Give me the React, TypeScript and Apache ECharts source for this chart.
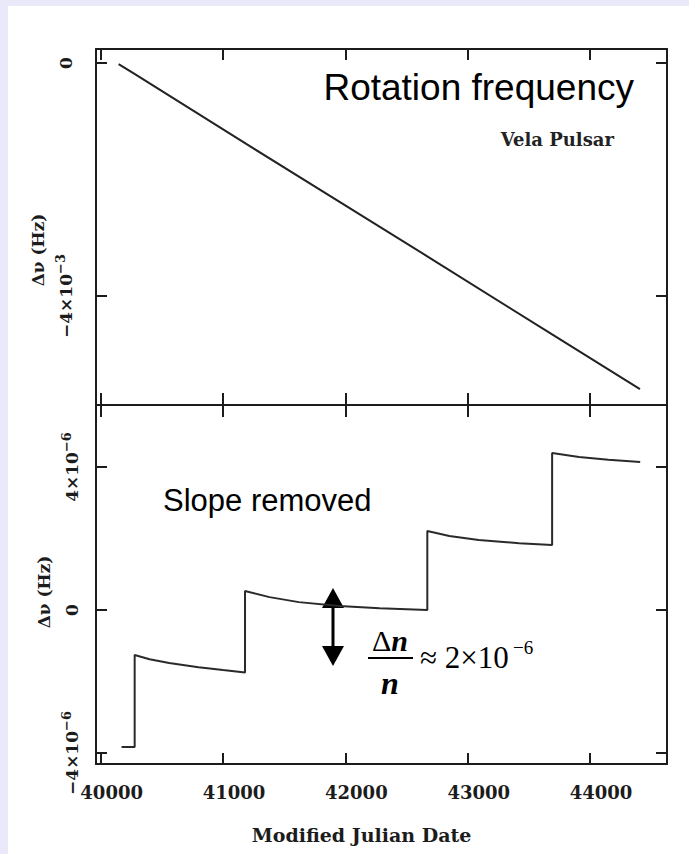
import React, { useEffect, useRef } from "react";
import * as echarts from "echarts";

// ---- data ----
const xTicks = [40000, 41000, 42000, 43000, 44000];
const yTicksTop = [-4, 0]; // units of 1e-3 Hz
const yTicksBottom = [-4, 0, 4]; // units of 1e-6 Hz

// top panel: rotation frequency offset (1e-3 Hz)
const mjdTop = [40147, 40280, 41190, 42686, 43690, 44408];
const dnuTop = [-0.02, -0.19, -1.39, -3.34, -4.66, -5.6];

// bottom panel: slope removed (1e-6 Hz)
const mjdSlope = [
  40171, 40278, 40278, 40400, 40560, 40800, 41000, 41180, 41180, 41380, 41620,
  41950, 42280, 42670, 42670, 42850, 43090, 43420, 43690, 43690, 43910, 44150,
  44410,
];
const dnuSlope = [
  -3.83, -3.83, -1.26, -1.38, -1.48, -1.6, -1.68, -1.75, 0.53, 0.36, 0.22, 0.11,
  0.05, 0.0, 2.21, 2.07, 1.96, 1.87, 1.82, 4.39, 4.28, 4.2, 4.14,
];

const X_MIN = 39962;
const X_MAX = 44629;
const TOP_MIN = -5.871;
const TOP_MAX = 0.24;
const BOT_MIN = -4.308;
const BOT_MAX = 5.734;

const INK = "#1c1c1c";
const SERIF_B = "DejaVu Serif";

export default function App() {
  const ref = useRef<HTMLDivElement>(null);

  useEffect(() => {
    if (!ref.current) return;
    const chart = echarts.init(ref.current, null, { renderer: "svg" });

    const line = { show: true, onZero: false, lineStyle: { color: INK, width: 2 } };
    const tickX = (vals: number[], len = 11) => ({
      show: true,
      inside: true,
      length: len,
      customValues: vals,
      lineStyle: { color: INK, width: 2 },
    });
    const richLab = {
      n: { fontFamily: SERIF_B, fontWeight: "bold", fontSize: 17, color: INK, lineHeight: 24 },
      s: { fontFamily: SERIF_B, fontWeight: "bold", fontSize: 13, color: INK, verticalAlign: "top", lineHeight: 13 },
    };

    const xBase = { type: "value", min: X_MIN, max: X_MAX, splitLine: { show: false }, axisLine: line };

    const option: any = {
      animation: false,
      grid: [
        { left: 96, top: 49, width: 571, height: 356 },
        { left: 96, top: 405, width: 571, height: 359 },
      ],
      xAxis: [
        { ...xBase, gridIndex: 0, position: "bottom", axisTick: tickX(xTicks, 12), axisLabel: { show: false } },
        { ...xBase, gridIndex: 0, position: "top", axisTick: tickX(xTicks), axisLabel: { show: false } },
        {
          ...xBase,
          gridIndex: 1,
          position: "bottom",
          axisTick: tickX(xTicks),
          axisLabel: {
            show: true,
            customValues: xTicks,
            margin: 19,
            padding: [0, 0, 0, 22],
            fontFamily: SERIF_B,
            fontWeight: "bold",
            fontSize: 18,
            color: INK,
            formatter: (v: number) => String(Math.round(v)),
          },
          name: "Modified Julian Date",
          nameLocation: "middle",
          nameGap: 61,
          nameTextStyle: {
            fontFamily: SERIF_B,
            fontWeight: "bold",
            fontSize: 19,
            color: INK,
            padding: [0, 40, 0, 0],
          },
        },
        { ...xBase, gridIndex: 1, position: "top", axisTick: tickX(xTicks, 12), axisLabel: { show: false } },
      ],
      yAxis: [
        {
          type: "value",
          gridIndex: 0,
          position: "left",
          min: TOP_MIN,
          max: TOP_MAX,
          splitLine: { show: false },
          axisLine: line,
          axisTick: tickX(yTicksTop),
          axisLabel: {
            show: true,
            customValues: yTicksTop,
            rotate: 90,
            margin: 18,
            rich: richLab,
            formatter: (v: number) => (Math.abs(v) < 1e-9 ? "{n|0}" : "{n|−4×10}{s|−3}"),
          },
          name: "Δν (Hz)",
          nameLocation: "middle",
          nameRotate: 90,
          nameGap: 45,
          nameTextStyle: {
            fontFamily: SERIF_B,
            fontWeight: "bold",
            fontSize: 17,
            color: INK,
            padding: [0, 46, 0, 0],
          },
        },
        {
          type: "value",
          gridIndex: 0,
          position: "right",
          min: TOP_MIN,
          max: TOP_MAX,
          splitLine: { show: false },
          axisLine: line,
          axisTick: tickX(yTicksTop),
          axisLabel: { show: false },
        },
        {
          type: "value",
          gridIndex: 1,
          position: "left",
          min: BOT_MIN,
          max: BOT_MAX,
          splitLine: { show: false },
          axisLine: line,
          axisTick: tickX(yTicksBottom),
          axisLabel: {
            show: true,
            customValues: yTicksBottom,
            rotate: 90,
            margin: 12,
            rich: richLab,
            formatter: (v: number) =>
              Math.abs(v) < 1e-9 ? "{n|0}" : v > 0 ? "{n|4×10}{s|−6}" : "{n|−4×10}{s|−6}",
          },
          name: "Δν (Hz)",
          nameLocation: "middle",
          nameRotate: 90,
          nameGap: 41,
          nameTextStyle: {
            fontFamily: SERIF_B,
            fontWeight: "bold",
            fontSize: 17,
            color: INK,
            padding: [0, 15, 0, 0],
          },
        },
        {
          type: "value",
          gridIndex: 1,
          position: "right",
          min: BOT_MIN,
          max: BOT_MAX,
          splitLine: { show: false },
          axisLine: line,
          axisTick: tickX(yTicksBottom),
          axisLabel: { show: false },
        },
      ],
      series: [
        {
          type: "line",
          xAxisIndex: 0,
          yAxisIndex: 0,
          data: mjdTop.map((m, i) => [m, dnuTop[i]]),
          showSymbol: false,
          lineStyle: { color: "#222", width: 2 },
        },
        {
          type: "line",
          xAxisIndex: 2,
          yAxisIndex: 2,
          data: mjdSlope.map((m, i) => [m, dnuSlope[i]]),
          showSymbol: false,
          smooth: false,
          lineStyle: { color: "#2a2a2a", width: 2 },
        },
      ],
      graphic: [
        {
          type: "text",
          style: {
            text: "Rotation frequency",
            x: 634,
            y: 87,
            align: "right",
            textAlign: "right",
            verticalAlign: "middle",
            textVerticalAlign: "middle",
            fontFamily: "Liberation Sans",
            fontSize: 37,
            fill: "#000",
          },
        },
        {
          type: "text",
          style: {
            text: "Vela Pulsar",
            x: 614,
            y: 139,
            align: "right",
            textAlign: "right",
            verticalAlign: "middle",
            textVerticalAlign: "middle",
            fontFamily: SERIF_B,
            fontWeight: "bold",
            fontSize: 18,
            fill: "#222",
          },
        },
        {
          type: "text",
          style: {
            text: "Slope removed",
            x: 163,
            y: 500,
            align: "left",
            textAlign: "left",
            verticalAlign: "middle",
            textVerticalAlign: "middle",
            fontFamily: "Liberation Sans",
            fontSize: 31,
            fill: "#000",
          },
        },
        { type: "line", shape: { x1: 333, y1: 605, x2: 333, y2: 650 }, style: { stroke: "#000", lineWidth: 3 } },
        { type: "polygon", shape: { points: [[322, 608], [344, 608], [333, 588]] }, style: { fill: "#000" } },
        { type: "polygon", shape: { points: [[322, 646], [344, 646], [333, 666]] }, style: { fill: "#000" } },
        {
          type: "text",
          style: {
            text: "{d|Δ}{n|n}",
            x: 390,
            y: 640,
            align: "center",
            textAlign: "center",
            verticalAlign: "middle",
            textVerticalAlign: "middle",
            rich: {
              d: { fontFamily: "Liberation Serif", fontSize: 30, fill: "#000", color: "#000" },
              n: { fontFamily: "Liberation Serif", fontSize: 30, fontWeight: "bold", fontStyle: "italic", fill: "#000", color: "#000" },
            },
          },
        },
        { type: "line", shape: { x1: 368, y1: 658, x2: 413, y2: 658 }, style: { stroke: "#000", lineWidth: 2 } },
        {
          type: "text",
          style: {
            text: "n",
            x: 390,
            y: 683,
            align: "center",
            textAlign: "center",
            verticalAlign: "middle",
            textVerticalAlign: "middle",
            fontFamily: "Liberation Serif",
            fontSize: 32,
            fontWeight: "bold",
            fontStyle: "italic",
            fill: "#000",
          },
        },
        {
          type: "text",
          style: {
            text: "≈ 2×10",
            x: 420,
            y: 657,
            align: "left",
            textAlign: "left",
            verticalAlign: "middle",
            textVerticalAlign: "middle",
            fontFamily: "Liberation Serif",
            fontSize: 31,
            fill: "#000",
          },
        },
        {
          type: "text",
          style: {
            text: "−6",
            x: 513,
            y: 647,
            align: "left",
            textAlign: "left",
            verticalAlign: "middle",
            textVerticalAlign: "middle",
            fontFamily: "Liberation Serif",
            fontSize: 19,
            fill: "#000",
          },
        },
      ],
    };

    chart.setOption(option);
    return () => chart.dispose();
  }, []);

  return (
    <div style={{ position: "fixed", left: 0, top: 0, width: 689, height: 854, background: "#e9e9f9" }}>
      <div style={{ position: "absolute", left: 8, top: 6, right: 0, bottom: 0, background: "#ffffff" }} />
      <div ref={ref} style={{ position: "absolute", left: 0, top: 0, width: 689, height: 854 }} />
    </div>
  );
}
